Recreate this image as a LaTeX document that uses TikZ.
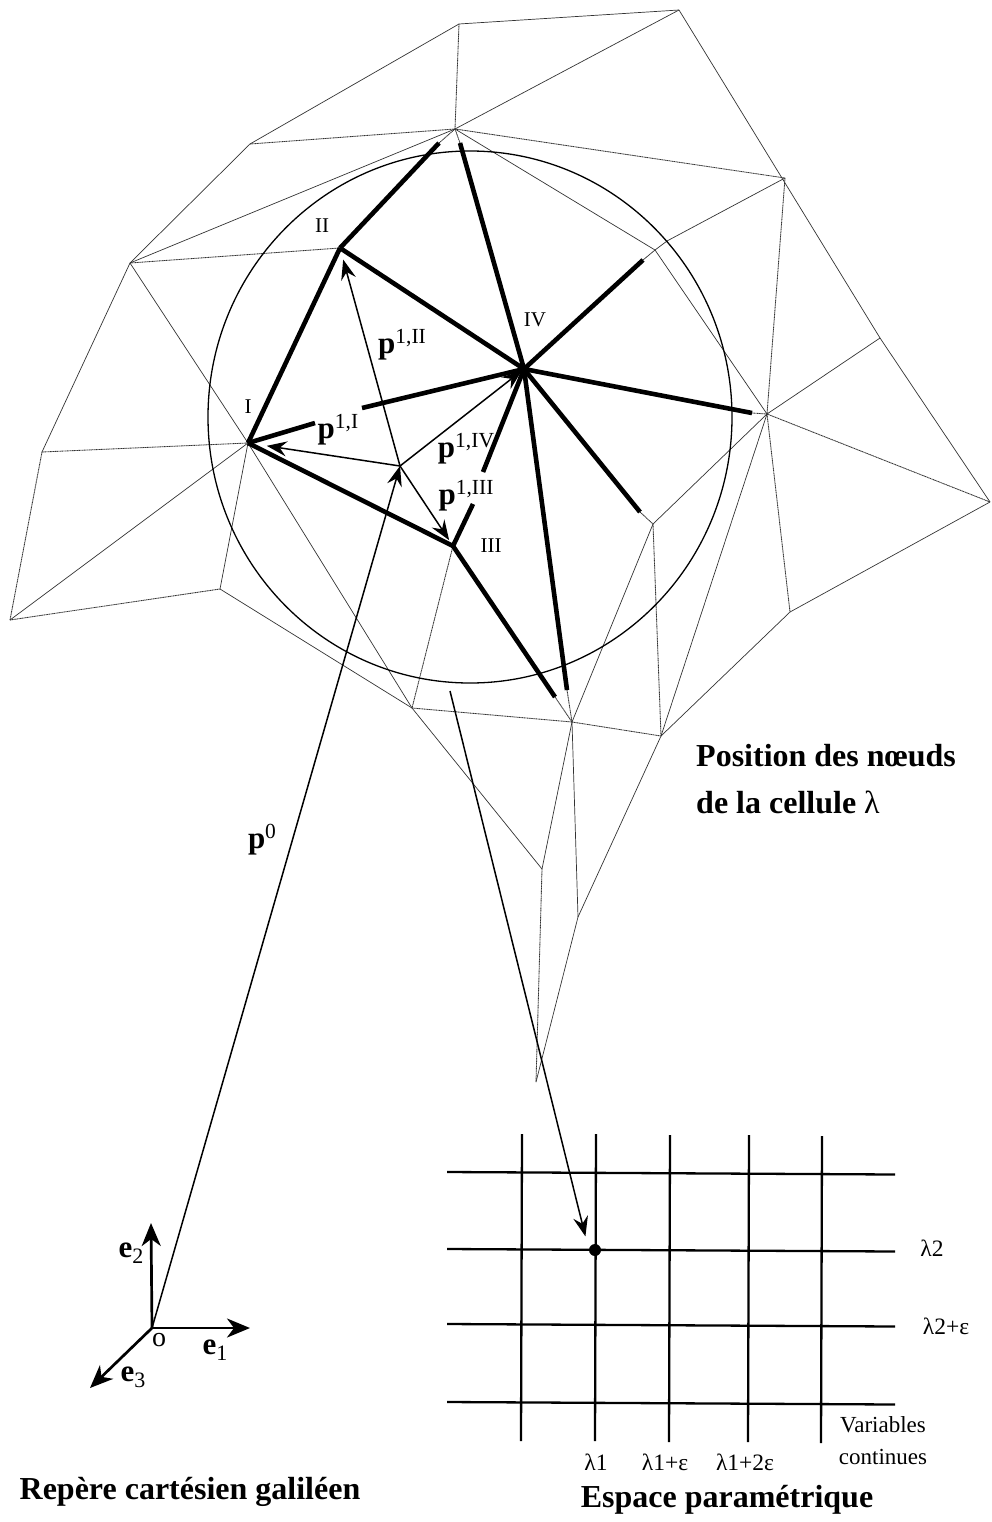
\documentclass[tikz,border=0pt]{standalone}
\usepackage{fontspec}
\setmainfont{Liberation Serif}
\usetikzlibrary{arrows.meta,positioning}
\newcommand{\vecp}[1]{{\fontsize{31}{31}\selectfont\bfseries p}\raisebox{10pt}{\fontsize{21.5}{21.5}\selectfont #1}}
\newcommand{\vece}[1]{{\fontsize{31}{31}\selectfont\bfseries e}\raisebox{-6pt}{\fontsize{22}{22}\selectfont #1}}
\begin{document}
\begin{tikzpicture}[x=1pt, y=-1pt,
  mesh/.style={draw=black!80, line width=0.7pt},
  dotmesh/.style={draw=black!80, line width=0.85pt, dash pattern=on 1.2pt off 0.5pt},
  bar/.style={line width=4.6pt},
  vec/.style={-{Stealth[length=20pt, width=15pt, inset=7pt]}, line width=1.5pt},
  axis/.style={-{Stealth[length=23pt, width=19pt, inset=7pt]}, line width=2.7pt},
  gridline/.style={line width=2.3pt},
  lab/.style={font=\fontsize{#1}{#1}\selectfont, inner sep=0pt},
  lab/.default=23.5,
  title/.style={font=\fontsize{32}{36}\selectfont\bfseries, inner sep=0pt, align=left}]
\useasboundingbox (0,0) rectangle (991,1522);
% mesh vertices
\foreach \name/\pos in {a/{459,24}, b/{679,10}, c/{455,129}, d/{250,144}, e/{130,263}, h/{42,452},
    j/{10,620}, k/{220,589}, l/{412,708}, o/{785,178}, p/{653,524}, q/{767,414}, r/{990,502},
    s/{790,612}, t/{661,736}, u/{572,722}, v/{880,338}, w/{655,250}, y/{542,869}, z/{578,917}, x/{536,1082}}
  \coordinate (\name) at (\pos);
\coordinate (nI) at (248,443);
\coordinate (nII) at (340,248);
\coordinate (nIII) at (453,546);
\coordinate (nIV) at (524,369);
\coordinate (pc) at (400,466);
\coordinate (orig) at (152,1328);
% thin mesh
\foreach \from/\to in {d/a, a/b, c/b, d/e, e/h, e/nI, k/nI, l/y, k/l, nI/l, b/v, v/r, c/w, w/q, v/q,
    p/q, r/s, s/t, t/z, z/x, u/y, p/u, t/q, e/c, nI/j, u/z}
  \draw[mesh] (\from) -- (\to);
\foreach \from/\to in {a/c, d/c, c/o, e/nII, nI/h, h/j, j/k, nIII/l, l/u, u/t, p/t, q/s, q/r, o/q, y/x}
  \draw[dotmesh] (\from) -- (\to);
% thick ends
\coordinate (endA) at (439,143);
\coordinate (endB) at (460,143);
\coordinate (endC) at (643,260);
\coordinate (endD) at (752,413);
\coordinate (endE) at (640,512);
\coordinate (endF) at (567,690);
\coordinate (endG) at (555,697);
\coordinate (bendW) at (667,241);
\draw[mesh] (endC) -- (w) -- (bendW) -- (o);
\foreach \from/\to in {endA/c, endB/c, endD/q, endE/p, endF/u, endG/u}
  \draw[dotmesh] (\from) -- (\to);
\draw[line width=1.3pt] (470,417) ellipse [x radius=262, y radius=266];
% cell
\foreach \from/\to in {nII/endA, nII/nIV, nII/nI, nI/nIII, nIII/endG, nIV/endB, nIV/endC, nIV/endD, nIV/endE, nIV/endF}
  \draw[bar] (\from) -- (\to);
\coordinate (gapA) at (315,423);
\coordinate (gapB) at (362,408);
\coordinate (gapC) at (473,504);
\coordinate (gapD) at (483,472);
\draw[bar] (nI) -- (gapA);
\draw[bar] (gapB) -- (nIV);
\draw[bar] (nIII) -- (gapC);
\draw[bar] (gapD) -- (nIV);
\fill (nIV) circle (4.5);
% position vectors
\draw[vec, shorten >=12pt] (pc) -- (nII);
\draw[vec, shorten >=19pt] (pc) -- (nI);
\draw[vec, shorten >=3pt] (pc) -- (nIV);
\draw[vec, shorten >=7pt] (pc) -- (nIII);
\draw[vec] (orig) -- (pc);
% axes
\draw[axis] (orig) -- (250,1328);
\draw[axis] (orig) -- (151,1223);
\draw[axis] (orig) -- (90,1388);
% node labels
\node[lab=21] (lI) at (248,407) {I};
\node[lab=21] (lII) at (322,226) {II};
\node[lab=21] (lIII) at (491,546) {III};
\node[lab=21] (lIV) at (535,320) {IV};
\node[lab] (vII) at (402,345) {\vecp{1,II}};
\node[lab] (vI) at (338,430) {\vecp{1,I}};
\node[lab] (vIV) at (466,449) {\vecp{1,IV}};
\node[lab] (vIII) at (466,496) {\vecp{1,III}};
\node[lab] (vzero) at (262,840) {\vecp{0}};
\node[lab=28] (lo) at (159,1340) {o};
\node[lab] (eone) at (215,1350) {\vece{1}};
\node[lab] (etwo) at (131,1253) {\vece{2}};
\node[lab] (ethree) at (133,1377) {\vece{3}};
\node[title, anchor=west] (tpos) at (696,756) {Position des nœuds};
\node[title, anchor=west] (tcell) at (696,802) {de la cellule \textmd{λ}};
\node[title] (trep) at (190,1492) {Repère cartésien galiléen};
\node[title] (tesp) at (727,1500) {Espace paramétrique};
% parameter grid
\foreach \xa/\ya in {522/1134, 596/1134, 670/1135, 749/1135, 822/1136}
  \draw[gridline] (\xa,\ya) -- (\xa-1,\ya+307);
\foreach \ya in {1172, 1249, 1324, 1402}
  \draw[gridline] (447,\ya) -- (895,\ya+2.5);
\node[circle, fill, inner sep=0pt, minimum size=12pt] (pt) at (595,1250) {};
\coordinate (cellpt) at (450,691);
\draw[vec, shorten >=14pt] (cellpt) -- (pt.west);
\node[lab] (ltwo) at (932,1248) {λ2};
\node[lab] (ltwoe) at (946,1326) {λ2+ε};
\node[lab] (lone) at (596,1462) {λ1};
\node[lab] (lonee) at (665,1462) {λ1+ε};
\node[lab] (lonetwo) at (745,1462) {λ1+2ε};
\node[lab, align=center, font=\fontsize{23}{32}\selectfont] (lvar) at (883,1441) {Variables\\continues};
\end{tikzpicture}
\end{document}
